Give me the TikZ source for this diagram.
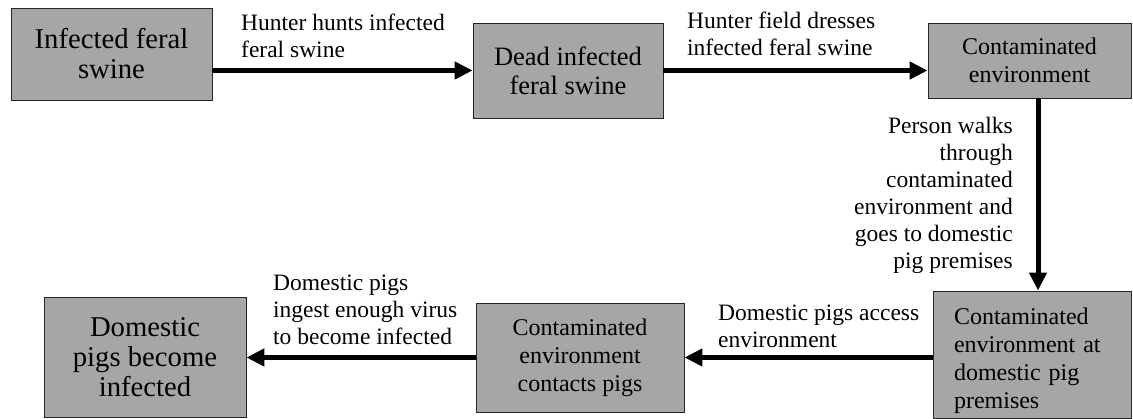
\documentclass[tikz,border=0pt]{standalone}
\usepackage{fontspec}
\setmainfont{Liberation Serif}
\usetikzlibrary{arrows.meta}
\definecolor{boxgray}{RGB}{166,166,166}
\newcommand\fbig{\fontsize{28.7}{30}\selectfont}
\newcommand\fmid{\fontsize{26.5}{29}\selectfont}
\newcommand\fsm{\fontsize{24}{28}\selectfont}
\newcommand\flab{\fontsize{23.5}{27}\selectfont}
\tikzset{
  box/.style={draw=black!85, fill=boxgray, line width=0.9pt, align=center, inner sep=0pt},
  lbl/.style={inner sep=0pt, font=\flab},
  arr/.style={line width=5pt, -{Triangle[length=18pt,width=17pt]}}
}
\begin{document}
\begin{tikzpicture}[x=1pt,y=-1pt]
\useasboundingbox (0,0) rectangle (1133,419);
% boxes
\node[box, font=\fbig, minimum width=201pt, minimum height=92pt] (n1) at (111.5,54) {Infected feral\\swine};
\node[box, font=\fmid, minimum width=190pt, minimum height=95pt] (n2) at (568,70.5) {Dead infected\\feral swine};
\node[box, font=\fsm, minimum width=203pt, minimum height=75pt] (n3) at (1029.5,60.5) {Contaminated\\environment};
\node[box, font=\fsm, align=left, text width=156pt, minimum width=198pt, minimum height=127pt] (n4) at (1032,354.5) {\rule{0pt}{29pt}Contaminated\\environment at\\domestic pig\\premises};
\node[box, font=\fsm, minimum width=208pt, minimum height=109pt] (n5) at (580,357.5) {Contaminated\\environment\\contacts pigs};
\node[box, font=\fbig, minimum width=202pt, minimum height=120pt] (n6) at (145,357) {Domestic\\pigs become\\infected};
% labels
\node[lbl, anchor=north west, align=left] (l1) at (241,14) {Hunter hunts infected\\feral swine};
\node[lbl, anchor=north west, align=left] (l2) at (687,12) {Hunter field dresses\\infected feral swine};
\node[lbl, anchor=north east, align=right] (l3) at (1013,117) {Person walks\\through\\contaminated\\environment and\\goes to domestic\\pig premises};
\node[lbl, anchor=north west, align=left] (l4) at (718,305) {Domestic pigs access\\environment};
\node[lbl, anchor=north west, align=left] (l5) at (273,275) {Domestic pigs\\ingest enough virus\\to become infected};
% arrows
\coordinate (vx) at (1038,0);
\draw[arr] (n1.east |- n2.west) -- (n2.west);
\draw[arr] (n2.east) -- (n3.west |- n2.east);
\draw[arr] (n3.south -| vx) -- (n4.north -| vx);
\draw[arr] (n4.west |- n5.east) -- (n5.east);
\draw[arr] (n5.west) -- (n6.east |- n5.west);
\end{tikzpicture}
\end{document}
